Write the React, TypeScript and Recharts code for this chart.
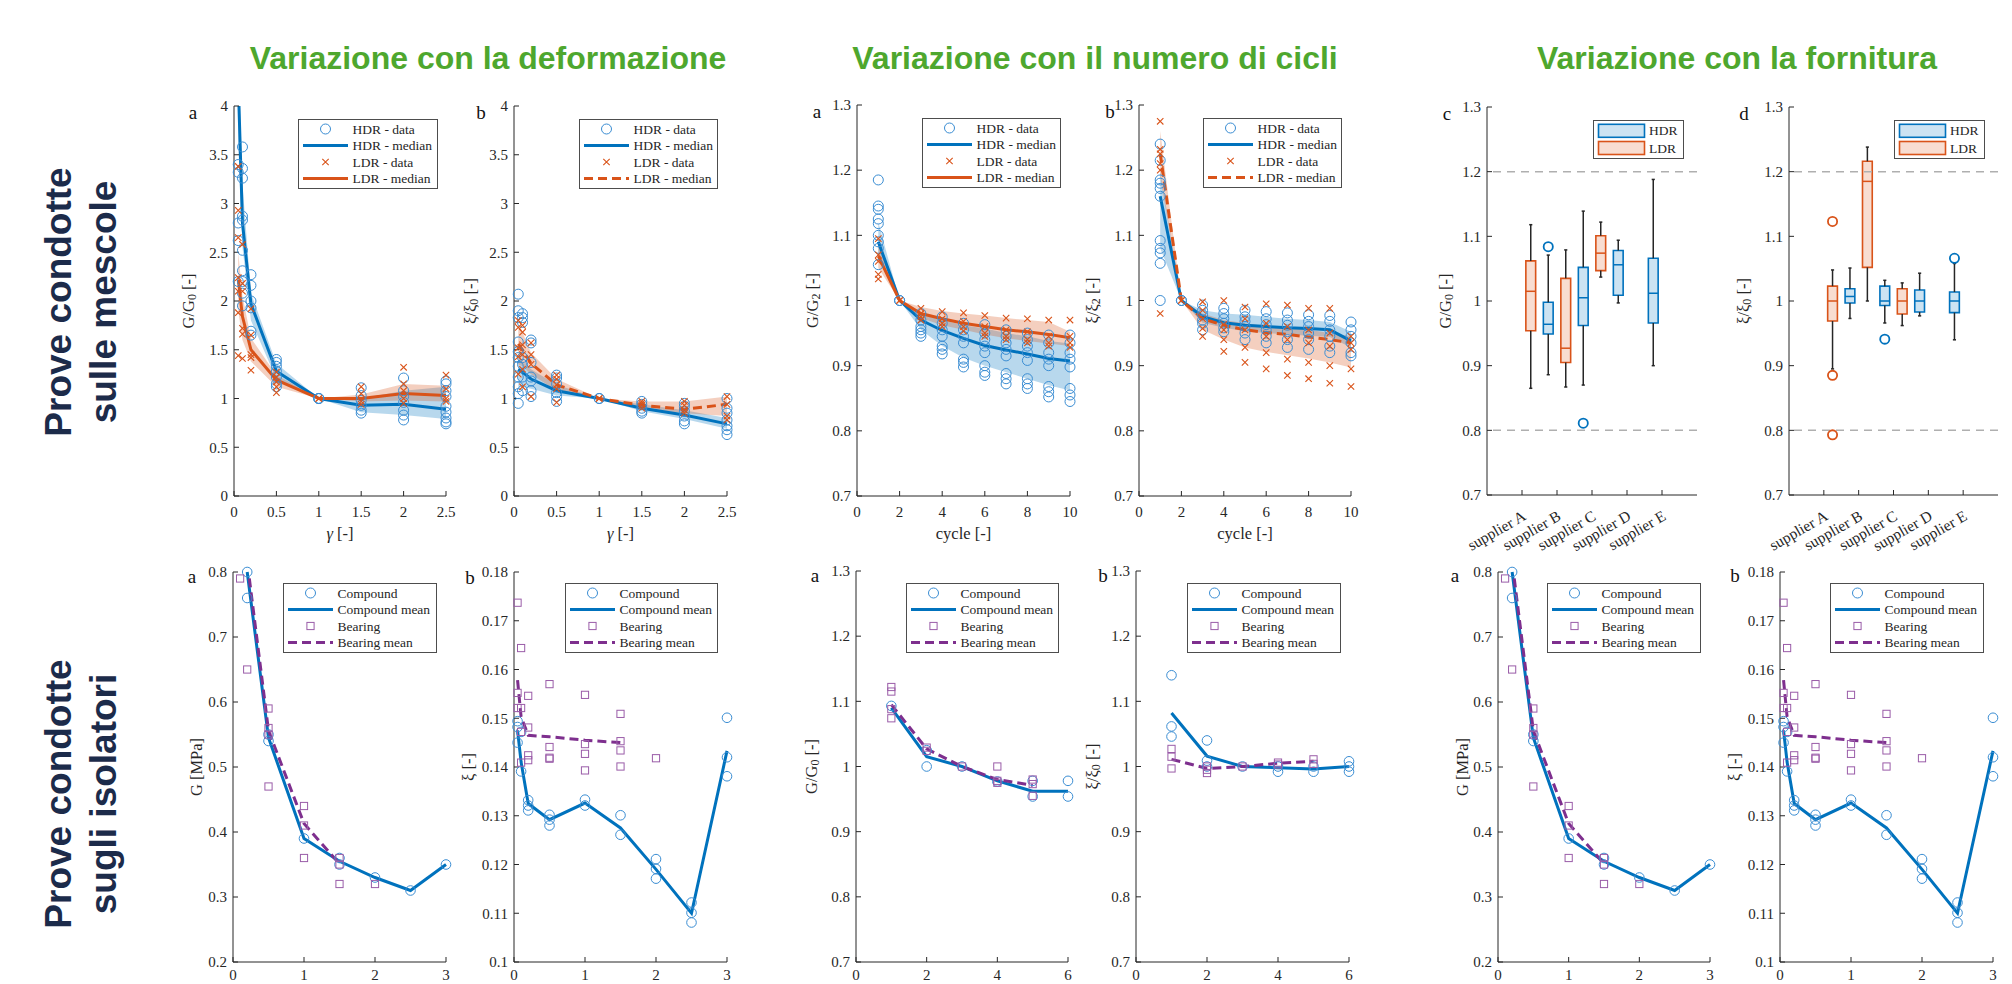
import React from "react";
import { ComposedChart, Scatter, Line, Area, XAxis, YAxis, ReferenceLine, ReferenceArea } from "recharts";

// MATLAB default palette
const BLUE = "#0072BD";
const BLUE_MK = "#3A8DD3";
const BLUE_FILL = "#CCE3F2";
const ORANGE = "#D95319";
const ORANGE_FILL = "#F8DDD1";
const PURPLE = "#7E2F8E";
const PURPLE_MK = "#9A5CA8";
const INK = "#262626";
const GREEN = "#4EA72E";
const NAVY = "#1C2B4A";
const SERIF = "'Liberation Serif', 'Times New Roman', serif";
const SANS = "'Liberation Sans', Arial, sans-serif";
const TICK = { fill: INK, fontSize: 15, fontFamily: SERIF };

// ---------- tick sets ----------
const STRAIN_TICKS = [0, 0.5, 1, 1.5, 2, 2.5];
const RATIO4_TICKS = [0, 0.5, 1, 1.5, 2, 2.5, 3, 3.5, 4];
const CYCLE_TICKS = [0, 2, 4, 6, 8, 10];
const NORM_TICKS = [0.7, 0.8, 0.9, 1, 1.1, 1.2, 1.3];
const SUPPLIER_TICKS = [1, 2, 3, 4, 5];
const SUPPLIERS = ["supplier A", "supplier B", "supplier C", "supplier D", "supplier E"];
const G_TICKS = [0.2, 0.3, 0.4, 0.5, 0.6, 0.7, 0.8];
const XI_TICKS = [0.1, 0.11, 0.12, 0.13, 0.14, 0.15, 0.16, 0.17, 0.18];
const GAMMA3_TICKS = [0, 1, 2, 3];
const CYC6_TICKS = [0, 2, 4, 6];

// ---------- mescole: variation with strain ----------
const STRAIN = [0.05, 0.1, 0.2, 0.5, 1, 1.5, 2, 2.5];

const G_HDR_PTS = [
  [3.4, 3.32, 2.8, 2.62, 2.2],
  [3.58, 3.36, 3.26, 2.87, 2.83, 2.52, 2.31, 2.2, 2.08, 1.95],
  [2.27, 2.16, 2.0, 1.93, 1.69, 1.65],
  [1.4, 1.37, 1.33, 1.28, 1.22, 1.15, 1.12],
  [1, 1, 1],
  [1.11, 1.03, 0.98, 0.93, 0.88, 0.85],
  [1.21, 1.08, 1.02, 0.96, 0.88, 0.83, 0.78],
  [1.18, 1.15, 1.08, 1.02, 0.92, 0.86, 0.8, 0.76, 0.74],
];
const G_HDR_MED = [4.25, 2.8, 1.97, 1.28, 1, 0.93, 0.94, 0.89];
const G_HDR_LO = [3.6, 2.55, 1.8, 1.2, 1, 0.86, 0.83, 0.79];
const G_HDR_HI = [4.6, 3.2, 2.08, 1.36, 1, 1.0, 1.08, 1.12];
const G_LDR_PTS = [
  [3.38, 2.93, 2.65, 2.24, 2.1, 1.88, 1.44],
  [2.58, 2.18, 2.1, 1.72, 1.66, 1.41],
  [1.92, 1.65, 1.45, 1.42, 1.29],
  [1.27, 1.22, 1.17, 1.12, 1.06],
  [1, 1],
  [1.12, 1.05, 0.97, 0.94],
  [1.32, 1.15, 1.08, 1.0, 0.95],
  [1.24, 1.1, 1.0, 0.97],
];
const G_LDR_MED = [2.22, 1.84, 1.5, 1.19, 1, 1.0, 1.05, 1.03];
const G_LDR_LO = [1.9, 1.6, 1.38, 1.12, 1, 0.97, 0.98, 0.97];
const G_LDR_HI = [2.5, 2.05, 1.62, 1.24, 1, 1.04, 1.15, 1.13];

const XI_HDR_PTS = [
  [2.07, 1.9, 1.83, 1.58, 1.48, 1.42, 1.33, 1.22, 1.12, 1.05, 0.95],
  [1.87, 1.83, 1.78, 1.42, 1.35, 1.22, 1.08],
  [1.6, 1.57, 1.37, 1.22, 1.18, 1.08, 1.02],
  [1.24, 1.21, 1.15, 1.06, 1.02, 0.97],
  [1, 1],
  [0.97, 0.94, 0.9, 0.87, 0.85],
  [0.95, 0.92, 0.87, 0.82, 0.77, 0.74],
  [1.0, 0.9, 0.85, 0.78, 0.72, 0.68, 0.63],
];
const XI_HDR_MED = [1.3, 1.27, 1.2, 1.08, 1, 0.9, 0.83, 0.74];
const XI_HDR_LO = [1.12, 1.12, 1.1, 1.03, 1, 0.87, 0.79, 0.69];
const XI_HDR_HI = [1.45, 1.38, 1.3, 1.14, 1, 0.94, 0.88, 0.8];
const XI_LDR_PTS = [
  [1.8, 1.73, 1.52, 1.43, 1.25],
  [1.75, 1.68, 1.55, 1.45, 1.3, 1.12],
  [1.57, 1.45, 1.35, 1.02],
  [1.24, 1.2, 1.14, 1.1, 0.96],
  [1, 1],
  [0.97, 0.95, 0.93, 0.9],
  [0.97, 0.93, 0.88, 0.85],
  [1.02, 0.94, 0.82, 0.78],
];
const XI_LDR_MED = [1.56, 1.5, 1.36, 1.14, 1, 0.93, 0.89, 0.94];
const XI_LDR_LO = [1.35, 1.33, 1.25, 1.08, 1, 0.9, 0.85, 0.82];
const XI_LDR_HI = [1.75, 1.68, 1.47, 1.2, 1, 0.97, 0.97, 1.02];

// ---------- mescole: variation with cycle ----------
const CYCLES = [1, 2, 3, 4, 5, 6, 7, 8, 9, 10];

const GC_HDR_PTS = [
  [1.185, 1.145, 1.14, 1.125, 1.118, 1.1, 1.09, 1.08, 1.055],
  [1, 1],
  [0.98, 0.97, 0.96, 0.955, 0.95, 0.945],
  [0.975, 0.965, 0.955, 0.945, 0.93, 0.925, 0.918],
  [0.965, 0.955, 0.945, 0.935, 0.91, 0.905, 0.898],
  [0.963, 0.95, 0.94, 0.93, 0.92, 0.9, 0.89, 0.885],
  [0.955, 0.945, 0.935, 0.925, 0.915, 0.888, 0.88, 0.872],
  [0.95, 0.94, 0.93, 0.92, 0.908, 0.88, 0.872, 0.865],
  [0.947, 0.935, 0.92, 0.91, 0.9, 0.868, 0.86, 0.852],
  [0.947, 0.935, 0.92, 0.91, 0.898, 0.865, 0.855, 0.845],
];
const GC_HDR_MED = [1.09, 1, 0.97, 0.954, 0.942, 0.931, 0.924, 0.918, 0.911, 0.907];
const GC_HDR_LO = [1.07, 1, 0.955, 0.93, 0.912, 0.9, 0.89, 0.88, 0.87, 0.862];
const GC_HDR_HI = [1.12, 1, 0.978, 0.97, 0.962, 0.957, 0.95, 0.945, 0.938, 0.934];
const GC_LDR_PTS = [
  [1.095, 1.07, 1.06, 1.04, 1.033],
  [1, 1],
  [0.988, 0.98, 0.975, 0.97],
  [0.983, 0.972, 0.965, 0.96],
  [0.981, 0.968, 0.96, 0.953],
  [0.977, 0.96, 0.95, 0.945],
  [0.973, 0.955, 0.945, 0.94],
  [0.972, 0.952, 0.94, 0.935],
  [0.97, 0.945, 0.935, 0.93],
  [0.97, 0.945, 0.935, 0.928],
];
const GC_LDR_MED = [1.068, 1, 0.98, 0.972, 0.965, 0.96, 0.955, 0.952, 0.948, 0.943];
const GC_LDR_LO = [1.05, 1, 0.973, 0.962, 0.955, 0.948, 0.942, 0.938, 0.934, 0.93];
const GC_LDR_HI = [1.085, 1, 0.99, 0.984, 0.98, 0.977, 0.973, 0.97, 0.967, 0.952];

const XC_HDR_PTS = [
  [1.24, 1.215, 1.185, 1.18, 1.172, 1.16, 1.092, 1.08, 1.073, 1.057, 1.0],
  [1, 1],
  [0.993, 0.985, 0.978, 0.97, 0.965, 0.955],
  [0.988, 0.98, 0.972, 0.965, 0.958, 0.952],
  [0.985, 0.975, 0.968, 0.96, 0.95, 0.94],
  [0.983, 0.972, 0.963, 0.955, 0.945, 0.935],
  [0.981, 0.97, 0.962, 0.952, 0.94, 0.928],
  [0.978, 0.968, 0.96, 0.95, 0.94, 0.925],
  [0.977, 0.968, 0.955, 0.945, 0.93, 0.92],
  [0.967, 0.955, 0.945, 0.935, 0.92, 0.915],
];
const XC_HDR_MED = [1.16, 1, 0.975, 0.966, 0.962, 0.96, 0.958, 0.957, 0.955, 0.938];
const XC_HDR_LO = [1.08, 1, 0.966, 0.958, 0.953, 0.95, 0.948, 0.946, 0.944, 0.928];
const XC_HDR_HI = [1.2, 1, 0.985, 0.98, 0.978, 0.975, 0.972, 0.97, 0.967, 0.952];
const XC_LDR_PTS = [
  [1.275, 1.232, 1.225, 1.21, 1.2, 0.98],
  [1, 1],
  [0.998, 0.985, 0.972, 0.957, 0.945],
  [1.0, 0.963, 0.955, 0.94, 0.922],
  [0.99, 0.972, 0.955, 0.928, 0.905],
  [0.995, 0.965, 0.945, 0.92, 0.895],
  [0.993, 0.96, 0.94, 0.91, 0.885],
  [0.988, 0.955, 0.935, 0.905, 0.88],
  [0.988, 0.95, 0.93, 0.9, 0.873],
  [0.945, 0.935, 0.925, 0.895, 0.868],
];
const XC_LDR_MED = [1.225, 1, 0.972, 0.962, 0.955, 0.951, 0.948, 0.944, 0.94, 0.935];
const XC_LDR_LO = [1.19, 1, 0.955, 0.94, 0.928, 0.921, 0.916, 0.911, 0.905, 0.897];
const XC_LDR_HI = [1.26, 1, 0.98, 0.97, 0.965, 0.961, 0.958, 0.955, 0.95, 0.945];

// ---------- mescole: variation with supplier (box plots) ----------
const BOX_POS = [1.25, 1.75, 2.25, 2.75, 3.25, 3.75, 4.75];
const BOX_MAT = ["LDR", "HDR", "LDR", "HDR", "LDR", "HDR", "HDR"];

const GB_LO = [0.865, 0.886, 0.867, 0.87, 1.037, 0.997, 0.9];
const GB_Q1 = [0.954, 0.949, 0.905, 0.962, 1.047, 1.009, 0.966];
const GB_MED = [1.015, 0.964, 0.927, 1.005, 1.074, 1.056, 1.012];
const GB_Q3 = [1.062, 0.998, 1.035, 1.052, 1.101, 1.078, 1.066];
const GB_HI = [1.118, 1.071, 1.079, 1.139, 1.122, 1.094, 1.188];
const GB_OUT_POS = [1.75, 2.75];
const GB_OUT_VAL = [1.084, 0.811];
const GB_OUT_MAT = ["HDR", "HDR"];

const XB_LO = [0.895, 0.973, 1.0, 0.966, 0.962, 0.977, 0.94];
const XB_Q1 = [0.969, 0.997, 1.052, 0.993, 0.98, 0.983, 0.982];
const XB_MED = [1.0, 1.007, 1.185, 1.0, 1.0, 1.0, 1.0];
const XB_Q3 = [1.023, 1.019, 1.216, 1.023, 1.019, 1.017, 1.014];
const XB_HI = [1.048, 1.051, 1.238, 1.032, 1.028, 1.043, 1.058];
const XB_OUT_POS = [1.25, 1.25, 1.25, 2.75, 4.75];
const XB_OUT_VAL = [1.123, 0.885, 0.793, 0.941, 1.066];
const XB_OUT_MAT = ["LDR", "LDR", "LDR", "HDR", "HDR"];

// ---------- isolatori ----------
const GAMMA_C = [0.2, 0.5, 1, 1.5, 2, 2.5, 3];
const G_COMP_PTS = [[0.8, 0.76], [0.55, 0.54], [0.39], [0.36, 0.35], [0.33], [0.31], [0.35]];
const G_COMP_MEAN = [0.8, 0.545, 0.39, 0.355, 0.33, 0.31, 0.35];
const GAMMA_B = [0.1, 0.2, 0.5, 1, 1.5, 2];
const G_BEAR_PTS = [[0.79], [0.65], [0.59, 0.56, 0.55, 0.47], [0.44, 0.41, 0.36], [0.36, 0.35, 0.32], [0.32]];
const GAMMA_BM = [0.23, 0.5, 1, 1.5];
const G_BEAR_MEAN = [0.79, 0.556, 0.413, 0.351];

const GAMMA_XC = [0.05, 0.1, 0.2, 0.5, 1, 1.5, 2, 2.5, 3];
const XI_COMP_PTS = [
  [0.1494, 0.1482, 0.145],
  [0.1472, 0.1391],
  [0.1332, 0.1321, 0.1311],
  [0.1302, 0.1292, 0.128],
  [0.1333, 0.1321],
  [0.1301, 0.1261],
  [0.1211, 0.1191, 0.1171],
  [0.1122, 0.1101, 0.1081],
  [0.1501, 0.142, 0.1381],
];
const XI_COMP_MEAN = [0.1475, 0.141, 0.1325, 0.1292, 0.1326, 0.1275, 0.119, 0.11, 0.1433];
const GAMMA_XB = [0.05, 0.1, 0.2, 0.5, 1, 1.5, 2];
const XI_BEAR_PTS = [
  [0.1737, 0.1552, 0.1521],
  [0.1644, 0.1521, 0.1472, 0.1409],
  [0.1546, 0.1481, 0.1424, 0.1414],
  [0.157, 0.1441, 0.1419, 0.1417],
  [0.1548, 0.1447, 0.1427, 0.1393],
  [0.1509, 0.1453, 0.1434, 0.1401],
  [0.1418],
];
const GAMMA_XBM = [0.05, 0.1, 0.2, 0.5, 1, 1.5];
const XI_BEAR_MEAN = [0.1578, 0.1503, 0.1465, 0.1462, 0.1455, 0.145];

const CYC6_C = [1, 2, 3, 4, 5, 6];
const GC6_COMP_PTS = [[1.093], [1.0, 1.025], [1.0], [0.977], [0.978, 0.954], [0.978, 0.954]];
const GC6_COMP_MEAN = [1.09, 1.015, 1.0, 0.978, 0.962, 0.962];
const CYC6_B = [1, 2, 3, 4, 5];
const GC6_BEAR_PTS = [[1.122, 1.115, 1.088, 1.074], [1.029, 1.024], [1.0], [1.0, 0.978, 0.975], [0.98, 0.973, 0.955]];
const GC6_BEAR_MEAN = [1.095, 1.027, 1.0, 0.98, 0.971];

const XC6_COMP_PTS = [[1.14, 1.0615, 1.046], [1.04, 1.009, 1.0], [1.0], [0.992, 1.0], [0.992, 1.0], [1.008, 1.0, 0.992]];
const XC6_COMP_MEAN = [1.082, 1.016, 1.0, 0.998, 0.996, 1.0];
const XC6_BEAR_PTS = [[1.027, 1.015, 0.997], [1.0, 0.995, 0.99], [1.0], [1.003, 1.006], [1.011, 1.004]];
const XC6_BEAR_MEAN = [1.011, 0.997, 1.0, 1.005, 1.008];

// ---------- helpers ----------
const ptsOf = (xs: number[], groups: number[][]) => xs.flatMap((x, i) => groups[i].map((y) => ({ x, y })));

const trendRows = (xs: number[], hm: number[], hlo: number[], hhi: number[], lm: number[], llo: number[], lhi: number[]) =>
  xs.map((x, i) => ({ x, hm: hm[i], hb: [hlo[i], hhi[i]], lm: lm[i], lb: [llo[i], lhi[i]] }));

const mergeRows = (ax: number[], av: number[], bx: number[], bv: number[]) => {
  const xs = Array.from(new Set([...ax, ...bx])).sort((p, q) => p - q);
  return xs.map((x) => {
    const i = ax.indexOf(x);
    const j = bx.indexOf(x);
    return { x, cm: i >= 0 ? av[i] : null, bm: j >= 0 ? bv[j] : null };
  });
};

const ring = (color: string, r: number, sw = 1) => (p: any) =>
  <circle cx={p.cx} cy={p.cy} r={r} fill="none" stroke={color} strokeWidth={sw} />;
const cross = (color: string, s: number) => (p: any) =>
  <path d={`M${p.cx - s},${p.cy - s}L${p.cx + s},${p.cy + s}M${p.cx - s},${p.cy + s}L${p.cx + s},${p.cy - s}`} stroke={color} strokeWidth={1.1} fill="none" />;
const square = (color: string, s: number) => (p: any) =>
  <rect x={p.cx - s} y={p.cy - s} width={2 * s} height={2 * s} fill="none" stroke={color} strokeWidth={1} />;
const nothing = () => <g />;

function trendItems(hdrPts: any[], ldrPts: any[], ldrDash: boolean) {
  return [
    <Area key="hb" xAxisId="b" yAxisId="l" type="linear" dataKey="hb" stroke="none" fill={BLUE} fillOpacity={0.28} activeDot={false} isAnimationActive={false} />,
    <Area key="lb" xAxisId="b" yAxisId="l" type="linear" dataKey="lb" stroke="none" fill={ORANGE} fillOpacity={0.28} activeDot={false} isAnimationActive={false} />,
    <Scatter key="hp" xAxisId="b" yAxisId="r" data={hdrPts} dataKey="y" shape={ring(BLUE_MK, 5)} isAnimationActive={false} />,
    <Scatter key="lp" xAxisId="b" yAxisId="r" data={ldrPts} dataKey="y" shape={cross(ORANGE, 3.2)} isAnimationActive={false} />,
    <Line key="hm" xAxisId="b" yAxisId="l" type="linear" dataKey="hm" stroke={BLUE} strokeWidth={3} dot={false} activeDot={false} isAnimationActive={false} />,
    <Line key="lm" xAxisId="b" yAxisId="l" type="linear" dataKey="lm" stroke={ORANGE} strokeWidth={3} strokeDasharray={ldrDash ? "9 5" : undefined} dot={false} activeDot={false} isAnimationActive={false} />,
  ];
}

function compareItems(compPts: any[], bearPts: any[]) {
  return [
    <Scatter key="cp" xAxisId="b" yAxisId="r" data={compPts} dataKey="y" shape={ring(BLUE_MK, 4.8)} isAnimationActive={false} />,
    <Line key="cm" xAxisId="b" yAxisId="l" type="linear" dataKey="cm" connectNulls stroke={BLUE} strokeWidth={3} dot={false} activeDot={false} isAnimationActive={false} />,
    <Scatter key="bp" xAxisId="b" yAxisId="r" data={bearPts} dataKey="y" shape={square(PURPLE_MK, 3.6)} isAnimationActive={false} />,
    <Line key="bm" xAxisId="b" yAxisId="l" type="linear" dataKey="bm" connectNulls stroke={PURPLE} strokeWidth={3} strokeDasharray="9 5" dot={false} activeDot={false} isAnimationActive={false} />,
  ];
}

const HALF = 0.14;
const CAP = 0.045;

function boxItems(lo: number[], q1: number[], med: number[], q3: number[], hi: number[], oPos: number[], oVal: number[], oMat: string[]) {
  const seg = (key: string, a: any, b: any, color: string, w: number) => (
    <ReferenceLine key={key} xAxisId="b" yAxisId="r" segment={[a, b]} stroke={color} strokeWidth={w} />
  );
  const items: React.ReactNode[] = [
    <ReferenceLine key="r08" xAxisId="b" yAxisId="r" y={0.8} stroke="#AFAFAF" strokeWidth={1.5} strokeDasharray="8 6" />,
    <ReferenceLine key="r12" xAxisId="b" yAxisId="r" y={1.2} stroke="#AFAFAF" strokeWidth={1.5} strokeDasharray="8 6" />,
  ];
  BOX_POS.forEach((x, i) => {
    const c = BOX_MAT[i] === "HDR" ? BLUE : ORANGE;
    const f = BOX_MAT[i] === "HDR" ? BLUE_FILL : ORANGE_FILL;
    items.push(
      seg(`wu${i}`, { x, y: q3[i] }, { x, y: hi[i] }, INK, 1.5),
      seg(`wl${i}`, { x, y: lo[i] }, { x, y: q1[i] }, INK, 1.5),
      seg(`cu${i}`, { x: x - CAP, y: hi[i] }, { x: x + CAP, y: hi[i] }, INK, 1.5),
      seg(`cl${i}`, { x: x - CAP, y: lo[i] }, { x: x + CAP, y: lo[i] }, INK, 1.5),
      <ReferenceArea key={`bx${i}`} xAxisId="b" yAxisId="r" x1={x - HALF} x2={x + HALF} y1={q1[i]} y2={q3[i]} fill={f} fillOpacity={1} stroke={c} strokeWidth={1.6} />,
      seg(`md${i}`, { x: x - HALF, y: med[i] }, { x: x + HALF, y: med[i] }, c, 1.5)
    );
  });
  ["HDR", "LDR"].forEach((m) => {
    const data = oPos.map((x, i) => ({ x, y: oVal[i], m: oMat[i] })).filter((d) => d.m === m);
    if (data.length)
      items.push(
        <Scatter key={`out${m}`} xAxisId="b" yAxisId="r" data={data} dataKey="y" shape={ring(m === "HDR" ? BLUE : ORANGE, 4.6, 1.8)} isAnimationActive={false} />
      );
  });
  return items;
}

const yLab = (content: React.ReactNode, dist: number) => (props: any) => {
  const vb = props.viewBox || {};
  const cx = vb.x + vb.width - dist;
  const cy = vb.y + vb.height / 2;
  return (
    <text x={cx} y={cy} transform={`rotate(-90 ${cx} ${cy})`} textAnchor="middle" dominantBaseline="central" fontFamily={SERIF} fontSize={16.5} fill={INK}>
      {content}
    </text>
  );
};

const xLab = (content: React.ReactNode) => (props: any) => {
  const vb = props.viewBox || {};
  const cx = vb.x + vb.width / 2;
  const cy = vb.y + 37;
  return (
    <text x={cx} y={cy} textAnchor="middle" dominantBaseline="central" fontFamily={SERIF} fontSize={16.5} fill={INK}>
      {content}
    </text>
  );
};

const SupplierTick = (props: any) => {
  const { x, y, payload } = props;
  const name = SUPPLIERS[SUPPLIER_TICKS.indexOf(payload.value)];
  return (
    <text transform={`translate(${x + 5},${y + 14}) rotate(-30)`} textAnchor="end" fontFamily={SERIF} fontSize={15.5} fill={INK}>
      {name}
    </text>
  );
};

const sub = (base: string, s: string, tail = " [-]") => (
  <>
    {base}
    <tspan dy={4} fontSize={12}>{s}</tspan>
    <tspan dy={-4}>{tail}</tspan>
  </>
);

type PanelProps = {
  box: number[];
  xDomain: number[];
  xTicks: number[];
  yDomain: number[];
  yTicks: number[];
  rows?: any[];
  items: React.ReactNode[];
  yLabel: React.ReactNode;
  yDist: number;
  xLabel?: React.ReactNode;
  xTick?: any;
  clipY?: boolean;
  bottom: number;
  xGap?: number;
};

function Panel(p: PanelProps) {
  const [L, T, W, H] = p.box;
  const YW = 64;
  const MT = 8;
  const MR = 22;
  // invisible anchor so that the mirrored top axis and the left axis always own a series
  const anchor = [
    { x: p.xDomain[0], y: p.yDomain[0] },
    { x: p.xDomain[1], y: p.yDomain[1] },
  ];
  return (
    <div style={{ position: "absolute", left: L - YW, top: T - MT }}>
      <ComposedChart width={YW + W + MR} height={MT + H + p.bottom} data={p.rows} margin={{ top: MT, right: MR, bottom: 0, left: 0 }}>
        <XAxis
          xAxisId="b"
          type="number"
          dataKey="x"
          domain={p.xDomain}
          ticks={p.xTicks}
          interval={0}
          height={p.bottom}
          stroke={INK}
          tickSize={-5}
          tickMargin={p.xGap ?? 15}
          tick={p.xTick ?? TICK}
          label={p.xLabel ? xLab(p.xLabel) : undefined}
        />
        <XAxis xAxisId="t" orientation="top" type="number" dataKey="x" domain={p.xDomain} ticks={p.xTicks} interval={0} height={0} mirror tick={false} tickSize={5} stroke={INK} />
        <YAxis
          yAxisId="l"
          type="number"
          domain={p.yDomain}
          ticks={p.yTicks}
          interval={0}
          width={YW}
          stroke={INK}
          tickSize={-5}
          tickMargin={11}
          tick={TICK}
          allowDataOverflow={!!p.clipY}
          label={yLab(p.yLabel, p.yDist)}
        />
        <YAxis yAxisId="r" orientation="right" type="number" domain={p.yDomain} ticks={p.yTicks} interval={0} width={0} mirror tick={false} tickSize={5} stroke={INK} />
        <Scatter xAxisId="t" yAxisId="l" data={anchor} dataKey="y" shape={nothing} isAnimationActive={false} />
        <Scatter xAxisId="t" yAxisId="r" data={anchor} dataKey="y" shape={nothing} isAnimationActive={false} />
        {p.items}
      </ComposedChart>
    </div>
  );
}

type Mark = "ring" | "cross" | "square" | "line" | "dash";
type KeyRow = { mark: Mark; color: string; text: string };

function Key({ left, top, width, rows }: { left: number; top: number; width: number; rows: KeyRow[] }) {
  const h = 70;
  const ys = [10, 26.5, 43, 59.5];
  return (
    <svg style={{ position: "absolute", left, top }} width={width} height={h}>
      <rect x={0.5} y={0.5} width={width - 1} height={h - 1} fill="#fff" stroke="#4d4d4d" strokeWidth={1} />
      {rows.map((r, i) => {
        const y = ys[i];
        let m: React.ReactNode = null;
        if (r.mark === "line" || r.mark === "dash")
          m = <line x1={5} x2={50} y1={y} y2={y} stroke={r.color} strokeWidth={3} strokeDasharray={r.mark === "dash" ? "9 5" : undefined} />;
        else if (r.mark === "ring") m = <circle cx={27.5} cy={y} r={5} fill="none" stroke={r.color} strokeWidth={1} />;
        else if (r.mark === "cross") m = <path d={`M24.3,${y - 3.2}L30.7,${y + 3.2}M24.3,${y + 3.2}L30.7,${y - 3.2}`} stroke={r.color} strokeWidth={1.1} />;
        else m = <rect x={23.9} y={y - 3.6} width={7.2} height={7.2} fill="none" stroke={r.color} strokeWidth={1} />;
        return (
          <g key={i}>
            {m}
            <text x={54.5} y={y} dominantBaseline="central" fontFamily={SERIF} fontSize={13.5} fill={INK}>
              {r.text}
            </text>
          </g>
        );
      })}
    </svg>
  );
}

function BoxKey({ left, top }: { left: number; top: number }) {
  const rows = [
    { text: "HDR", c: BLUE, f: BLUE_FILL, y: 10.8 },
    { text: "LDR", c: ORANGE, f: ORANGE_FILL, y: 28 },
  ];
  return (
    <svg style={{ position: "absolute", left, top }} width={91} height={39}>
      <rect x={0.5} y={0.5} width={90} height={38} fill="#fff" stroke="#4d4d4d" strokeWidth={1} />
      {rows.map((r) => (
        <g key={r.text}>
          <rect x={5.5} y={r.y - 6.5} width={46} height={13} fill={r.f} stroke={r.c} strokeWidth={1.6} />
          <text x={56} y={r.y} dominantBaseline="central" fontFamily={SERIF} fontSize={13.5} fill={INK}>
            {r.text}
          </text>
        </g>
      ))}
    </svg>
  );
}

const Letter = ({ x, y, c }: { x: number; y: number; c: string }) => (
  <div style={{ position: "absolute", left: x, top: y, transform: "translate(-50%,-50%)", fontFamily: SERIF, fontSize: 19, color: "#111", lineHeight: 1 }}>{c}</div>
);

const Title = ({ x, text }: { x: number; text: string }) => (
  <div style={{ position: "absolute", left: x, top: 58, transform: "translate(-50%,-50%)", fontFamily: SANS, fontWeight: 700, fontSize: 32, color: GREEN, whiteSpace: "nowrap", lineHeight: 1 }}>
    {text}
  </div>
);

const RowLabel = ({ y, a, b }: { y: number; a: string; b: string }) => (
  <div
    style={{
      position: "absolute",
      left: 81,
      top: y,
      transform: "translate(-50%,-50%) rotate(-90deg)",
      fontFamily: SANS,
      fontWeight: 700,
      fontSize: 37,
      lineHeight: "45px",
      color: NAVY,
      whiteSpace: "nowrap",
      textAlign: "center",
    }}
  >
    {a}
    <br />
    {b}
  </div>
);

const KEY_TREND = (dash: boolean): KeyRow[] => [
  { mark: "ring", color: BLUE_MK, text: "HDR - data" },
  { mark: "line", color: BLUE, text: "HDR - median" },
  { mark: "cross", color: ORANGE, text: "LDR - data" },
  { mark: dash ? "dash" : "line", color: ORANGE, text: "LDR - median" },
];
const KEY_COMPARE: KeyRow[] = [
  { mark: "ring", color: BLUE_MK, text: "Compound" },
  { mark: "line", color: BLUE, text: "Compound mean" },
  { mark: "square", color: PURPLE_MK, text: "Bearing" },
  { mark: "dash", color: PURPLE, text: "Bearing mean" },
];

export default function App() {
  const gamma = (
    <>
      <tspan fontStyle="italic">γ</tspan> [-]
    </>
  );
  const gRows = mergeRows(GAMMA_C, G_COMP_MEAN, GAMMA_BM, G_BEAR_MEAN);
  const xiRows = mergeRows(GAMMA_XC, XI_COMP_MEAN, GAMMA_XBM, XI_BEAR_MEAN);
  const gcRows = mergeRows(CYC6_C, GC6_COMP_MEAN, CYC6_B, GC6_BEAR_MEAN);
  const xcRows = mergeRows(CYC6_C, XC6_COMP_MEAN, CYC6_B, XC6_BEAR_MEAN);
  const gItems = compareItems(ptsOf(GAMMA_C, G_COMP_PTS), ptsOf(GAMMA_B, G_BEAR_PTS));
  const xiItems = compareItems(ptsOf(GAMMA_XC, XI_COMP_PTS), ptsOf(GAMMA_XB, XI_BEAR_PTS));

  return (
    <div style={{ position: "absolute", left: 0, top: 0, width: 2012, height: 984, overflow: "hidden", background: "#fff" }}>
      <Title x={488} text="Variazione con la deformazione" />
      <Title x={1095} text="Variazione con il numero di cicli" />
      <Title x={1737} text="Variazione con la fornitura" />
      <RowLabel y={302} a="Prove condotte" b="sulle mescole" />
      <RowLabel y={794} a="Prove condotte" b="sugli isolatori" />

      {/* top row: compounds */}
      <Panel
        box={[234, 106, 212, 390]}
        xDomain={[0, 2.5]}
        xTicks={STRAIN_TICKS}
        yDomain={[0, 4]}
        yTicks={RATIO4_TICKS}
        rows={trendRows(STRAIN, G_HDR_MED, G_HDR_LO, G_HDR_HI, G_LDR_MED, G_LDR_LO, G_LDR_HI)}
        items={trendItems(ptsOf(STRAIN, G_HDR_PTS), ptsOf(STRAIN, G_LDR_PTS), false)}
        yLabel={sub("G/G", "0")}
        yDist={46}
        xLabel={gamma}
        clipY
        bottom={48}
      />
      <Panel
        box={[514, 106, 213, 390]}
        xDomain={[0, 2.5]}
        xTicks={STRAIN_TICKS}
        yDomain={[0, 4]}
        yTicks={RATIO4_TICKS}
        rows={trendRows(STRAIN, XI_HDR_MED, XI_HDR_LO, XI_HDR_HI, XI_LDR_MED, XI_LDR_LO, XI_LDR_HI)}
        items={trendItems(ptsOf(STRAIN, XI_HDR_PTS), ptsOf(STRAIN, XI_LDR_PTS), true)}
        yLabel={sub("ξ/ξ", "0")}
        yDist={44}
        xLabel={gamma}
        bottom={48}
      />
      <Panel
        box={[857, 105, 213, 391]}
        xDomain={[0, 10]}
        xTicks={CYCLE_TICKS}
        yDomain={[0.7, 1.3]}
        yTicks={NORM_TICKS}
        rows={trendRows(CYCLES, GC_HDR_MED, GC_HDR_LO, GC_HDR_HI, GC_LDR_MED, GC_LDR_LO, GC_LDR_HI)}
        items={trendItems(ptsOf(CYCLES, GC_HDR_PTS), ptsOf(CYCLES, GC_LDR_PTS), false)}
        yLabel={sub("G/G", "2")}
        yDist={45}
        xLabel="cycle [-]"
        bottom={48}
      />
      <Panel
        box={[1139, 105, 212, 391]}
        xDomain={[0, 10]}
        xTicks={CYCLE_TICKS}
        yDomain={[0.7, 1.3]}
        yTicks={NORM_TICKS}
        rows={trendRows(CYCLES, XC_HDR_MED, XC_HDR_LO, XC_HDR_HI, XC_LDR_MED, XC_LDR_LO, XC_LDR_HI)}
        items={trendItems(ptsOf(CYCLES, XC_HDR_PTS), ptsOf(CYCLES, XC_LDR_PTS), true)}
        yLabel={sub("ξ/ξ", "2")}
        yDist={47}
        xLabel="cycle [-]"
        bottom={48}
      />
      <Panel
        box={[1487, 107, 210, 388]}
        xDomain={[0, 6]}
        xTicks={SUPPLIER_TICKS}
        yDomain={[0.7, 1.3]}
        yTicks={NORM_TICKS}
        items={boxItems(GB_LO, GB_Q1, GB_MED, GB_Q3, GB_HI, GB_OUT_POS, GB_OUT_VAL, GB_OUT_MAT)}
        yLabel={sub("G/G", "0")}
        yDist={42}
        xTick={SupplierTick}
        bottom={60}
      />
      <Panel
        box={[1789, 107, 209, 388]}
        xDomain={[0, 6]}
        xTicks={SUPPLIER_TICKS}
        yDomain={[0.7, 1.3]}
        yTicks={NORM_TICKS}
        items={boxItems(XB_LO, XB_Q1, XB_MED, XB_Q3, XB_HI, XB_OUT_POS, XB_OUT_VAL, XB_OUT_MAT)}
        yLabel={sub("ξ/ξ", "0")}
        yDist={46}
        xTick={SupplierTick}
        bottom={60}
      />

      {/* bottom row: bearings */}
      <Panel box={[233, 572, 213, 390]} xDomain={[0, 3]} xTicks={GAMMA3_TICKS} yDomain={[0.2, 0.8]} yTicks={G_TICKS} rows={gRows} items={gItems} yLabel="G [MPa]" yDist={37} bottom={22} xGap={12} />
      <Panel box={[514, 572, 213, 390]} xDomain={[0, 3]} xTicks={GAMMA3_TICKS} yDomain={[0.1, 0.18]} yTicks={XI_TICKS} rows={xiRows} items={xiItems} yLabel="ξ [-]" yDist={46} bottom={22} xGap={12} />
      <Panel
        box={[856, 571, 212, 391]}
        xDomain={[0, 6]}
        xTicks={CYC6_TICKS}
        yDomain={[0.7, 1.3]}
        yTicks={NORM_TICKS}
        rows={gcRows}
        items={compareItems(ptsOf(CYC6_C, GC6_COMP_PTS), ptsOf(CYC6_B, GC6_BEAR_PTS))}
        yLabel={sub("G/G", "0")}
        yDist={45}
        bottom={22}
        xGap={12}
      />
      <Panel
        box={[1136, 571, 213, 391]}
        xDomain={[0, 6]}
        xTicks={CYC6_TICKS}
        yDomain={[0.7, 1.3]}
        yTicks={NORM_TICKS}
        rows={xcRows}
        items={compareItems(ptsOf(CYC6_C, XC6_COMP_PTS), ptsOf(CYC6_B, XC6_BEAR_PTS))}
        yLabel={sub("ξ/ξ", "0")}
        yDist={44}
        bottom={22}
        xGap={12}
      />
      <Panel box={[1498, 572, 212, 390]} xDomain={[0, 3]} xTicks={GAMMA3_TICKS} yDomain={[0.2, 0.8]} yTicks={G_TICKS} rows={gRows} items={gItems} yLabel="G [MPa]" yDist={36} bottom={22} xGap={12} />
      <Panel box={[1780, 572, 213, 390]} xDomain={[0, 3]} xTicks={GAMMA3_TICKS} yDomain={[0.1, 0.18]} yTicks={XI_TICKS} rows={xiRows} items={xiItems} yLabel="ξ [-]" yDist={46} bottom={22} xGap={12} />

      {/* legends */}
      <Key left={298} top={119} width={140} rows={KEY_TREND(false)} />
      <Key left={579} top={119} width={139} rows={KEY_TREND(true)} />
      <Key left={922} top={118} width={139} rows={KEY_TREND(false)} />
      <Key left={1203} top={118} width={139} rows={KEY_TREND(true)} />
      <BoxKey left={1593} top={120} />
      <BoxKey left={1894} top={120} />
      <Key left={283} top={583} width={154} rows={KEY_COMPARE} />
      <Key left={565} top={583} width={153} rows={KEY_COMPARE} />
      <Key left={906} top={583} width={153} rows={KEY_COMPARE} />
      <Key left={1187} top={583} width={154} rows={KEY_COMPARE} />
      <Key left={1547} top={583} width={154} rows={KEY_COMPARE} />
      <Key left={1830} top={583} width={154} rows={KEY_COMPARE} />

      {/* panel letters */}
      <Letter x={193} y={112} c="a" />
      <Letter x={481} y={112} c="b" />
      <Letter x={817} y={111} c="a" />
      <Letter x={1110} y={111} c="b" />
      <Letter x={1447} y={113} c="c" />
      <Letter x={1744} y={113} c="d" />
      <Letter x={192} y={576} c="a" />
      <Letter x={470} y={577} c="b" />
      <Letter x={815} y={575} c="a" />
      <Letter x={1103} y={575} c="b" />
      <Letter x={1455} y={575} c="a" />
      <Letter x={1735} y={575} c="b" />
    </div>
  );
}
